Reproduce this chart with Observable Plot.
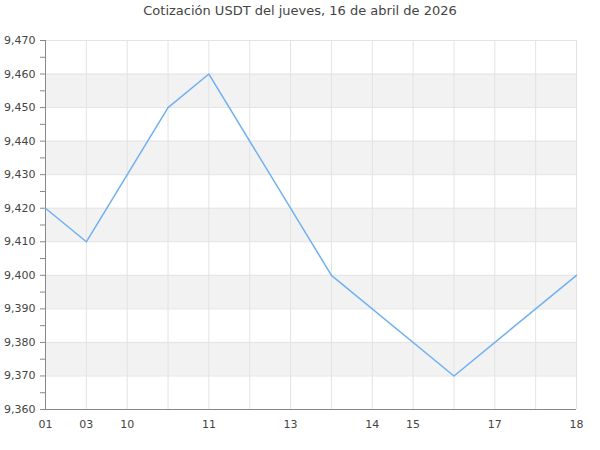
<!DOCTYPE html>
<html>
<head>
<meta charset="utf-8">
<script src="https://cdn.jsdelivr.net/npm/d3@7"></script>
<script src="https://cdn.jsdelivr.net/npm/@observablehq/plot@0.6"></script>
<style>
  body { margin: 0; background: #fff; font-family: "DejaVu Sans", sans-serif; }
  #title { height: 22px; line-height: 22px; text-align: center; font-size: 13px; color: #444; width: 600px; }
</style>
</head>
<body>
<div id="title">Cotización USDT del jueves, 16 de abril de 2026</div>
<div id="chart"></div>
<script>
const slotCount = 14;
const tickPositions = [0, 1, 2, 4, 6, 8, 9, 11, 13];
const tickLabels = ["01", "03", "10", "11", "13", "14", "15", "17", "18"];
const pointSlots = [0, 1, 3, 4, 7, 10, 13];
const prices = [9420, 9410, 9450, 9460, 9400, 9370, 9400];
const yTicks = [9360, 9370, 9380, 9390, 9400, 9410, 9420, 9430, 9440, 9450, 9460, 9470];
const yMinorTicks = [9365, 9375, 9385, 9395, 9405, 9415, 9425, 9435, 9445, 9455, 9465];
const bandStarts = [9370, 9390, 9410, 9430, 9450];

const data = pointSlots.map((s, i) => ({slot: s, price: prices[i]}));
const gridSlots = d3.range(slotCount);
const labelMap = new Map(tickPositions.map((p, i) => [p, tickLabels[i]]));

const chart = Plot.plot({
  width: 600,
  height: 428,
  marginTop: 18,
  marginBottom: 41,
  marginLeft: 45,
  marginRight: 24,
  style: {fontFamily: "DejaVu Sans, sans-serif", fontSize: "11px", color: "#444", background: "#fff"},
  x: {domain: [0, slotCount - 1], label: null},
  y: {domain: [9360, 9470], label: null},
  marks: [
    Plot.rect(bandStarts, {y1: d => d, y2: d => d + 10, fill: "#f2f2f2"}),
    Plot.gridX(gridSlots, {stroke: "#e3e3e3", strokeOpacity: 1}),
    Plot.gridY(yTicks, {stroke: "#e3e3e3", strokeOpacity: 1}),
    Plot.axisY(yTicks, {tickFormat: d3.format(","), tickSize: 5, tickPadding: 5, stroke: "#888", label: null}),
    Plot.axisY(yMinorTicks, {tickFormat: null, text: null, tickSize: 5, stroke: "#888", label: null}),
    Plot.axisX(tickPositions, {tickFormat: d => labelMap.get(d), tickSize: 0, tickPadding: 8, dy: 3, label: null}),
    Plot.ruleX([0], {stroke: "#888"}),
    Plot.ruleY([9360], {stroke: "#888"}),
    Plot.line(data, {x: "slot", y: "price", stroke: "#6fb0f3", strokeWidth: 1.5})
  ]
});
document.getElementById("chart").appendChild(chart);
</script>
</body>
</html>
